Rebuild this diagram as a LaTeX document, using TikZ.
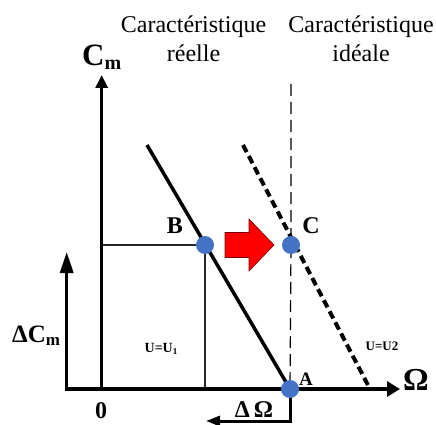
\documentclass[tikz,border=0pt]{standalone}
\usepackage{fontspec}
\setmainfont{Liberation Serif}
\usetikzlibrary{arrows.meta}
\definecolor{ptblue}{RGB}{68,114,196}
\definecolor{arrred}{RGB}{255,0,0}
\definecolor{arredge}{RGB}{120,0,0}
\pgfdeclarelayer{bg}
\pgfsetlayers{bg,main}
\begin{document}
\begin{tikzpicture}[x=1pt,y=-1pt,
  axis/.style={line width=3.5pt, draw=black},
  thinline/.style={line width=1.4pt, draw=black!85},
  dashline/.style={line width=1.2pt, draw=black, dash pattern=on 12pt off 6pt},
  dotline/.style={line width=4pt, draw=black, dash pattern=on 8pt off 4.5pt},
  ptnode/.style={circle, fill=ptblue, minimum size=18pt, inner sep=0pt},
  lbl/.style={inner sep=0pt, anchor=base},
  title/.style={inner sep=0pt, anchor=base, align=center, font=\fontsize{24}{29}\selectfont}]
\useasboundingbox (0,0) rectangle (436,425);
% points
\node[ptnode] (A) at (290,389) {};
\node[ptnode] (B) at (205,245) {};
\node[ptnode] (C) at (291,245) {};
% coordinates
\coordinate (O) at (101.7,389);
\coordinate (CmTop) at (101.7,75);
\coordinate (Lft) at (66.7,389);
\coordinate (dCmTop) at (66.7,252);
\coordinate (OmEnd) at (400,389);
\coordinate (S1) at (147,145);
\coordinate (S2) at (243,145);
\coordinate (E2) at (370,389);
\coordinate (DTop) at (291,84);
\coordinate (Dw) at (290,421);
\coordinate (DwEnd) at (206,421);
\begin{pgfonlayer}{bg}
  \draw[thinline] (O |- B) -- (B.center);
  \draw[thinline] (B.center) -- (B |- O);
  \draw[dashline] (DTop) -- (C.center) -- (A.center);
  \draw[dotline] (S2) -- (E2);
  \draw[axis] (S1) -- (A.center);
  \draw[axis, {Triangle[length=21pt,width=13pt]}-{Triangle[length=13pt,width=15pt]}] (dCmTop) -- (Lft) -- (OmEnd);
  \draw[axis, -{Triangle[length=13pt,width=12pt]}] (O) -- (CmTop);
  \draw[line width=3pt, -{Triangle[length=14pt,width=10pt]}] (A.center) -- (Dw) -- (DwEnd);
\end{pgfonlayer}
% red arrow
\draw[fill=arrred, draw=arredge, line width=0.6pt] (225,232.5) -- (249,232.5) -- (249,219) -- (274,245) -- (249,271) -- (249,257.5) -- (225,257.5) -- cycle;
% titles
\node[title] (t1) at (193.5,62) {Caractéristique\\réelle};
\node[title] (t2) at (361,62) {Caractéristique\\idéale};
% labels
\node[lbl, anchor=base west] (lCm) at (82,66) {\fontsize{31}{31}\selectfont\bfseries C\raisebox{-4pt}{\fontsize{20}{20}\selectfont m}};
\node[lbl, anchor=base west] (ldCm) at (12,342) {\fontsize{25}{25}\selectfont\bfseries ΔC\raisebox{-3pt}{\fontsize{17}{17}\selectfont m}};
\node[lbl] (l0) at (101,418) {\fontsize{24}{24}\selectfont\bfseries 0};
\node[lbl] (lB) at (175,233) {\fontsize{24}{24}\selectfont\bfseries B};
\node[lbl] (lC) at (311,233) {\fontsize{24}{24}\selectfont\bfseries C};
\node[lbl] (lA) at (306,385) {\fontsize{19}{19}\selectfont\bfseries A};
\node[lbl] (lOm) at (416,390) {\fontsize{32}{32}\selectfont\bfseries Ω};
\node[lbl] (ldOm) at (254,417) {\fontsize{24}{24}\selectfont\bfseries Δ\,Ω};
\node[lbl] (lU1) at (161,352) {\fontsize{14}{14}\selectfont\bfseries U=U\raisebox{-2pt}{\fontsize{9}{9}\selectfont 1}};
\node[lbl] (lU2) at (382,350) {\fontsize{13}{13}\selectfont\bfseries U=U2};
\end{tikzpicture}
\end{document}
